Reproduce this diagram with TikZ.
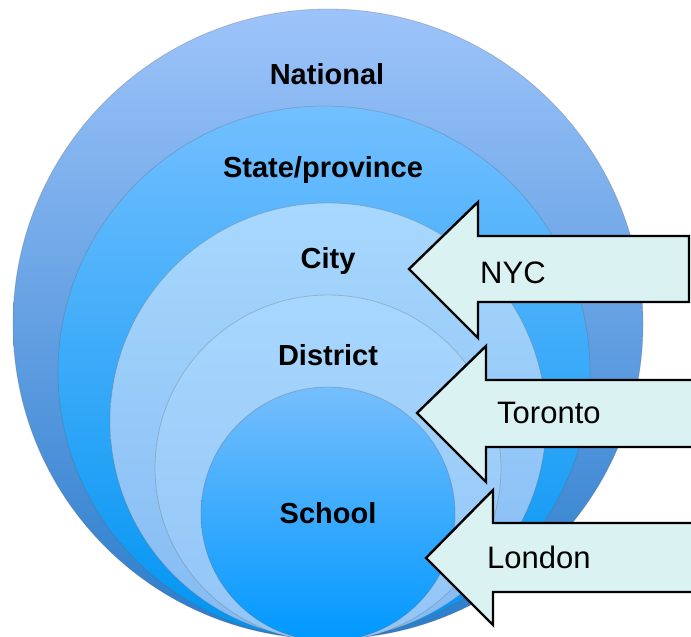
\documentclass[tikz,border=0pt]{standalone}
\usepackage{fontspec}
\setmainfont{Liberation Sans}
\definecolor{natTop}{HTML}{9DC4FA}
\definecolor{natMid}{HTML}{7EB0EE}
\definecolor{natBot}{HTML}{2A7CCB}
\definecolor{stateTop}{HTML}{72BFFF}
\definecolor{stateBot}{HTML}{0094F2}
\definecolor{cityTop}{HTML}{A8D8FD}
\definecolor{cityBot}{HTML}{84BAF3}
\definecolor{distTop}{HTML}{A8D7FD}
\definecolor{distBot}{HTML}{92C5F7}
\definecolor{schoolTop}{HTML}{76BEFC}
\definecolor{schoolBot}{HTML}{0098FF}
\definecolor{callout}{HTML}{DAF2F2}
\begin{document}
\begin{tikzpicture}[x=1pt,y=-1pt,
  ring/.style={draw=black!60, draw opacity=0.3, line width=0.8pt},
  level/.style={font=\fontsize{29}{33}\selectfont\bfseries, text=black, inner sep=0pt, anchor=base},
  pointer/.style={draw=black, line width=2.4pt, fill=callout, line join=miter},
  place/.style={font=\fontsize{31}{36}\selectfont, text=black, inner sep=0pt, anchor=base west}]
\useasboundingbox (0,0) rectangle (691,637);
\begin{scope}
  \clip (0,0) rectangle (691,637);
  % nested levels, all resting on the same bottom point
  \coordinate (cNat) at (328,324);
  \coordinate (cState) at (324,372);
  \coordinate (cCity) at (328,421);
  \coordinate (cDist) at (328,468);
  \coordinate (cSchool) at (328,514);
  \shade[ring, top color=natTop, middle color=natMid, bottom color=natBot] (cNat) circle (315);
  \shade[ring, top color=stateTop, bottom color=stateBot] (cState) circle (266);
  \shade[ring, top color=cityTop, bottom color=cityBot] (cCity) circle (218);
  \shade[ring, top color=distTop, bottom color=distBot] (cDist) circle (173);
  \shade[ring, top color=schoolTop, bottom color=schoolBot] (cSchool) circle (127);

  % level names
  \node[level] (national) at (327,84) {National};
  \node[level] (state) at (323,177) {State/province};
  \node[level] (city) at (328,268) {City};
  \node[level] (district) at (328,365) {District};
  \node[level] (school) at (328,523) {School};

  % block arrows pointing at the levels
  \coordinate (nycTip) at (409,269);
  \coordinate (torTip) at (417,413);
  \coordinate (lonTip) at (426,558);
  \draw[pointer] (nycTip) -- (478,202) -- (478,236) -- (689,236) -- (689,302)
    -- (478,302) -- (478,338) -- cycle;
  \draw[pointer] (torTip) -- (486,346) -- (486,380) -- (700,380) -- (700,447)
    -- (486,447) -- (486,482) -- cycle;
  \draw[pointer] (lonTip) -- (493,490) -- (493,523) -- (700,523) -- (700,592)
    -- (493,592) -- (493,625) -- cycle;
  \node[place] (nyc) at (480,283) {NYC};
  \node[place] (toronto) at (497,423) {Toronto};
  \node[place] (london) at (487,568) {London};
\end{scope}
\end{tikzpicture}
\end{document}
